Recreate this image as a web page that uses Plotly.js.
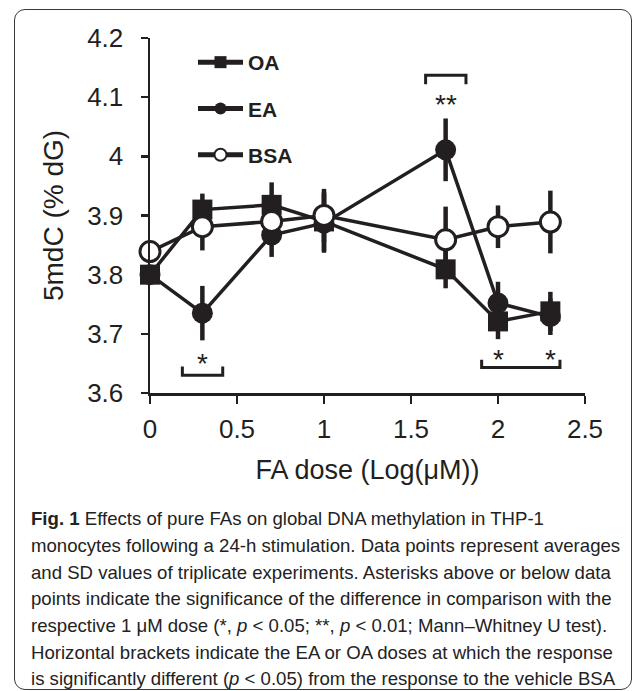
<!DOCTYPE html>
<html>
<head>
<meta charset="utf-8">
<script src="https://cdn.plot.ly/plotly-3.0.1.min.js"></script>
<style>
  html, body { margin: 0; padding: 0; background: #fff; }
  #wrap { position: relative; width: 633px; height: 691px; overflow: hidden; }
  #chart { width: 633px; height: 691px; }
  #frame { position: absolute; left: 14px; top: 9px; width: 618px; height: 681px;
           border: 1.6px solid #3a3a3a; border-radius: 11px; pointer-events: none; box-sizing: border-box; }
</style>
</head>
<body>
<div id="wrap">
  <div id="chart"></div>
  <div id="frame"></div>
</div>
<script>
// ---- data ----
const doses   = [0, 0.301, 0.699, 1, 1.699, 2, 2.301];   // Log(µM)
const oaMean  = [3.80, 3.910, 3.918, 3.89, 3.809, 3.721, 3.738];
const oaSD    = [0.012, 0.027, 0.038, 0.05, 0.032, 0.030, 0.033];
const eaMean  = [3.80, 3.735, 3.867, 3.887, 4.011, 3.752, 3.729];
const eaSD    = [0.012, 0.046, 0.037, 0.05, 0.053, 0.036, 0.031];
const bsaMean = [3.839, 3.881, 3.890, 3.900, 3.859, 3.881, 3.889];
const bsaSD   = [0.010, 0.040, 0.030, 0.045, 0.056, 0.036, 0.053];
const seriesNames = ["OA", "EA", "BSA"];
const xTicks = [0, 0.5, 1, 1.5, 2, 2.5];
const xTickLabels = ["0", "0.5", "1", "1.5", "2", "2.5"];
const yTicks = [3.6, 3.7, 3.8, 3.9, 4.0, 4.1, 4.2];
const yTickLabels = ["3.6", "3.7", "3.8", "3.9", "4", "4.1", "4.2"];
// significance brackets: [x0, x1, yLine, yEnd]
const brackets = [[0.186, 0.418, 3.630, 3.645], [1.584, 1.816, 4.137, 4.122], [1.906, 2.356, 3.643, 3.656]];
// asterisk labels: x, y, text
const starX = [0.301, 1.699, 2, 2.301];
const starY = [3.657, 4.095, 3.664, 3.664];
const starText = ["*", "**", "*", "*"];
const captionLines = [
  "<b>Fig. 1</b> Effects of pure FAs on global DNA methylation in THP-1",
  "monocytes following a 24-h stimulation. Data points represent averages",
  "and SD values of triplicate experiments. Asterisks above or below data",
  "points indicate the significance of the difference in comparison with the",
  "respective 1 μM dose (*, <i>p</i> &lt; 0.05; **, <i>p</i> &lt; 0.01; Mann–Whitney U test).",
  "Horizontal brackets indicate the EA or OA doses at which the response",
  "is significantly different (<i>p</i> &lt; 0.05) from the response to the vehicle BSA"
];

// ---- styling ----
const INK = "#231f20";
const M = {l: 150, r: 48, t: 38, b: 298};
const W = 633, H = 691;
const pw = W - M.l - M.r, ph = H - M.t - M.b;
const px2x = p => (p - M.l) / pw;
const py2y = p => (H - M.b - p) / ph;

function errY(sd) { return {type: "data", array: sd, visible: true, thickness: 4.5, width: 0, color: INK}; }

const common = {type: "scatter", mode: "lines+markers", x: doses, line: {color: INK, width: 3.5}, cliponaxis: false};
const traces = [
  Object.assign({}, common, {name: seriesNames[0], legendgroup: "a", y: oaMean, error_y: errY(oaSD),
    marker: {symbol: "square", size: 20, color: INK, line: {width: 0}}}),
  Object.assign({}, common, {name: seriesNames[1], legendgroup: "b", y: eaMean, error_y: errY(eaSD),
    marker: {symbol: "circle", size: 21, color: INK, line: {width: 0}}}),
  Object.assign({}, common, {name: seriesNames[2], legendgroup: "c", y: bsaMean, error_y: errY(bsaSD),
    marker: {symbol: "circle", size: 20, color: "#ffffff", line: {width: 3, color: INK}}})
];

const shapes = brackets.map(b => ({
  type: "path", xref: "x", yref: "y",
  path: `M${b[0]},${b[3]} L${b[0]},${b[2]} L${b[1]},${b[2]} L${b[1]},${b[3]}`,
  line: {color: INK, width: 3}
}));

const annotations = starX.map((x, i) => ({
  x: x, y: starY[i], xref: "x", yref: "y", text: starText[i], showarrow: false,
  font: {family: "Liberation Sans, Arial, sans-serif", size: 28, color: INK},
  xanchor: "center", yanchor: "middle", yshift: -4
}));

const capY = [518, 545, 572, 598, 625, 652, 678];
captionLines.forEach((t, i) => annotations.push({
  xref: "paper", yref: "paper", x: px2x(29), y: py2y(capY[i]), text: t, showarrow: false,
  xanchor: "left", yanchor: "middle", align: "left",
  font: {family: "Liberation Sans, Arial, sans-serif", size: 18.6, color: "#222"}
}));

const axisFont = {family: "Liberation Sans, Arial, sans-serif", size: 26, color: INK};
const layout = {
  width: W, height: H, margin: M,
  paper_bgcolor: "#fff", plot_bgcolor: "#fff",
  showlegend: true,
  legend: {x: px2x(193), y: py2y(42), xanchor: "left", yanchor: "top", bgcolor: "rgba(0,0,0,0)",
    font: {family: "Liberation Sans, Arial, sans-serif", size: 21, color: INK, weight: "bold"},
    itemsizing: "constant", itemwidth: 45, tracegroupgap: 16},
  xaxis: {range: [0, 2.5], tickvals: xTicks, ticktext: xTickLabels, showgrid: false, zeroline: false,
    showline: true, linecolor: INK, linewidth: 2.5, ticks: "outside", ticklen: 8, tickwidth: 2.5, tickcolor: INK,
    tickfont: axisFont, ticklabelstandoff: 3,
    title: {text: "FA dose (Log(μM))", font: {family: "Liberation Sans, Arial, sans-serif", size: 27, color: INK}, standoff: 18}},
  yaxis: {range: [3.6, 4.2], tickvals: yTicks, ticktext: yTickLabels, showgrid: false, zeroline: false,
    showline: true, linecolor: INK, linewidth: 2.5, ticks: "outside", ticklen: 7, tickwidth: 2.5, tickcolor: INK,
    tickfont: axisFont, ticklabelstandoff: 12,
    title: {text: "5mdC (% dG)", font: {family: "Liberation Sans, Arial, sans-serif", size: 28, color: INK}, standoff: 16}},
  shapes: shapes,
  annotations: annotations
};

Plotly.newPlot("chart", traces, layout, {staticPlot: true, displayModeBar: false});
</script>
</body>
</html>
